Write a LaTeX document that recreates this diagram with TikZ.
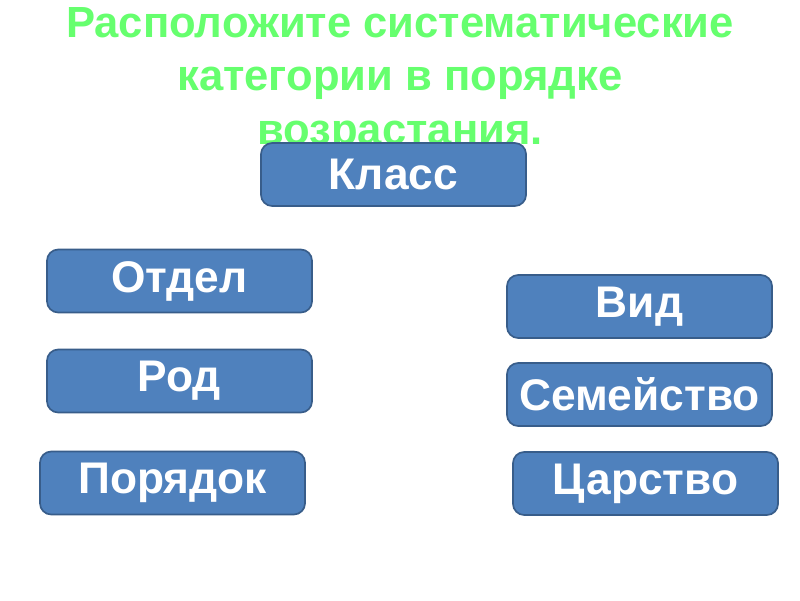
\documentclass[tikz,border=0pt]{standalone}
\usepackage{fontspec}
\newfontfamily\slidefont{Liberation Sans}
\usepackage{tikz}
\definecolor{titlegreen}{RGB}{102,255,110}
\definecolor{boxfill}{RGB}{79,129,189}
\definecolor{boxline}{RGB}{56,93,138}
\tikzset{
  category box/.style={rectangle,rounded corners=8pt,draw=boxline,
    fill=boxfill,line width=1.2pt,minimum width=6.625cm,
    minimum height=1.575cm,inner sep=0pt,text=white,
    font=\slidefont\bfseries\fontsize{31.5}{36}\selectfont},
  slide title/.style={align=center,text=titlegreen,inner sep=0pt,
    font=\slidefont\bfseries\fontsize{31}{38}\selectfont}
}
\begin{document}
\begin{tikzpicture}[x=0.025cm,y=-0.025cm]
  \useasboundingbox[fill=white] (0,0) rectangle (800,600);
  \node[slide title,anchor=north] (title) at (400,7)
    {Расположите систематические\\категории в порядке\\возрастания.};
  % left column
  \node[category box] (klass) at (393.5,174.5) {Класс};
  \node[category box] (otdel) at (179.5,281) {Отдел};
  \node[category box] (rod) at (179.5,381) {Род};
  \node[category box] (poryadok) at (172.5,483) {Порядок};
  % right column
  \node[category box] (vid) at (639.5,306.5) {Вид};
  \node[category box] (semeystvo) at (639.5,394.5) {Семейство};
  \node[category box] (tsarstvo) at (645.5,483.5) {Царство};
\end{tikzpicture}
\end{document}
